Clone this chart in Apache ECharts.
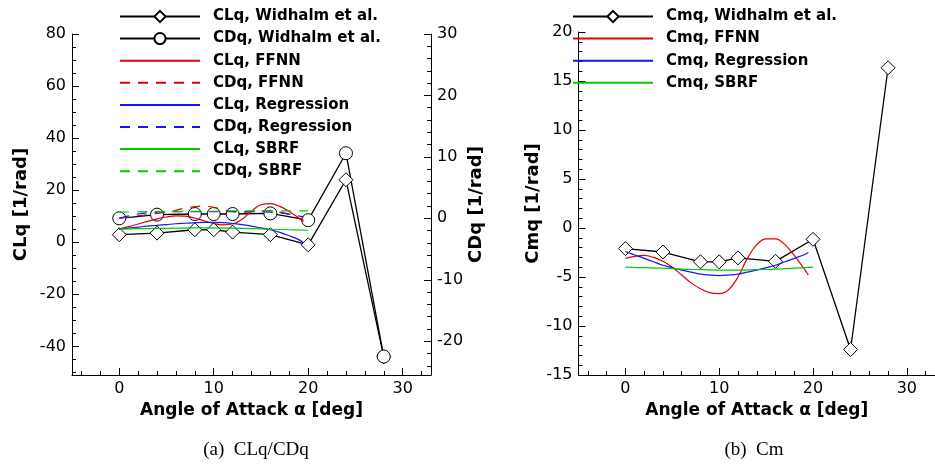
<!DOCTYPE html>
<html>
<head>
<meta charset="utf-8">
<script src="https://cdn.jsdelivr.net/npm/echarts@6/dist/echarts.min.js"></script>
<style>html,body{margin:0;padding:0;background:#fff;}#c{width:935px;height:465px;}</style>
</head>
<body>
<div id="c"></div>
<script>
// ---------- data ----------
const alphaExp = [0, 4, 8, 10, 12, 16, 20, 24, 28];
const clqWidhalm = [2.9, 3.5, 4.8, 4.8, 3.9, 2.9, -1.0, 24, -44];
const cdqWidhalm = [0.0, 0.6, 0.7, 0.7, 0.7, 0.8, -0.3, 10.6, -22.5];
const cmqWidhalm = [-2.1, -2.45, -3.45, -3.45, -3.05, -3.4, -1.15, -12.4, 16.35];

const alphaFit = [0, 1, 2, 3, 4, 5, 6, 7, 8, 9, 10, 11, 12, 13, 14, 15, 16, 17, 18, 19, 19.5];
const clqFFNN = [5.1, 6.0, 7.0, 8.0, 9.0, 9.7, 10.1, 10.0, 9.3, 8.2, 7.2, 6.7, 7.0, 8.8, 12.0, 14.4, 14.8, 13.8, 11.8, 9.3, 8.0];
const cdqFFNN = [0.0, 0.2, 0.4, 0.6, 0.8, 1.0, 1.3, 1.7, 1.9, 2.0, 1.8, 1.4, 1.1, 1.0, 1.1, 1.2, 1.2, 1.0, 0.6, 0.0, -0.3];
const clqReg = [5.0, 5.4, 5.8, 6.2, 6.5, 6.8, 7.1, 7.3, 7.5, 7.6, 7.6, 7.5, 7.2, 6.8, 6.2, 5.5, 4.8, 3.8, 2.5, 1.0, -0.2];
const cdqReg = [0.0, 0.4, 0.7, 0.9, 1.0, 1.05, 1.1, 1.1, 1.1, 1.1, 1.1, 1.1, 1.1, 1.1, 1.1, 1.05, 1.0, 0.9, 0.7, 0.4, 0.2];
const cmqFFNN = [-3.1, -2.9, -2.8, -3.0, -3.4, -4.0, -4.8, -5.6, -6.2, -6.6, -6.7, -6.3, -5.0, -3.1, -1.7, -1.1, -1.1, -1.7, -2.8, -4.1, -4.8];
const cmqReg = [-2.4, -2.75, -3.1, -3.45, -3.8, -4.05, -4.3, -4.5, -4.7, -4.8, -4.85, -4.8, -4.7, -4.5, -4.3, -4.05, -3.8, -3.45, -3.1, -2.75, -2.5];

const alphaSbrf = [0, 2, 4, 6, 8, 10, 12, 14, 16, 18, 20];
const clqSbrf = [5.0, 5.2, 5.3, 5.4, 5.5, 5.5, 5.4, 5.2, 5.0, 4.8, 4.6];
const cdqSbrf = [1.0, 1.05, 1.1, 1.1, 1.15, 1.15, 1.2, 1.2, 1.2, 1.2, 1.2];
const cmqSbrf = [-4.0, -4.05, -4.1, -4.2, -4.25, -4.3, -4.3, -4.25, -4.2, -4.1, -4.0];

const xTicks = [0, 10, 20, 30];
const clqTicks = [-40, -20, 0, 20, 40, 60, 80];
const cdqTicks = [-20, -10, 0, 10, 20, 30];
const cmqTicks = [-15, -10, -5, 0, 5, 10, 15, 20];

// ---------- helpers ----------
const FONT = 'DejaVu Sans';
const pairs = (xs, ys) => xs.map((x, i) => [x, ys[i]]);
function range(a, b, step, skipEvery) {
  const out = [];
  for (let v = a; v <= b + 1e-9; v += step) {
    const r = Math.round(v * 1000) / 1000;
    if (Math.abs(r % skipEvery) > 1e-6) out.push(r);
  }
  return out;
}
const xMinor = range(-4, 32, 2, 10);
const clqMinor = range(-50, 80, 5, 20);
const cdqMinor = range(-24, 30, 2, 10);
const cmqMinor = range(-15, 20, 1, 5);

const black = '#000';
const labelStyle = {color: black, fontFamily: FONT, fontSize: 16};
const nameStyle = {color: black, fontFamily: FONT, fontSize: 18, fontWeight: 'bold'};

function mainAxis(extra) {
  return Object.assign({
    type: 'value',
    axisLine: {show: true, onZero: false, lineStyle: {color: black, width: 1}},
    axisTick: {show: true, inside: true, length: 7, lineStyle: {color: black, width: 1}},
    axisLabel: Object.assign({show: true, margin: 6}, labelStyle),
    splitLine: {show: false},
    minorTick: {show: false}
  }, extra);
}
function minorAxis(extra, vals) {
  return Object.assign({
    type: 'value',
    axisLine: {show: false, onZero: false},
    axisTick: {show: true, inside: true, length: 4, customValues: vals, lineStyle: {color: black, width: 1}},
    axisLabel: {show: false},
    splitLine: {show: false}
  }, extra);
}
function withTicks(ax, vals) {
  ax.axisTick.customValues = vals;
  ax.axisLabel.customValues = vals;
  return ax;
}

const xName = 'Angle of Attack α [deg]';
const xAxes = [
  withTicks(mainAxis({gridIndex: 0, position: 'bottom', min: -5, max: 33, name: xName, nameLocation: 'middle', nameGap: 27,
    nameTextStyle: Object.assign({}, nameStyle, {fontSize: 17})}), xTicks),
  minorAxis({gridIndex: 0, position: 'bottom', min: -5, max: 33}, xMinor),
  withTicks(mainAxis({gridIndex: 1, position: 'bottom', min: -5, max: 33, name: xName, nameLocation: 'middle', nameGap: 27,
    nameTextStyle: Object.assign({}, nameStyle, {fontSize: 17})}), xTicks),
  minorAxis({gridIndex: 1, position: 'bottom', min: -5, max: 33}, xMinor)
];
const yAxes = [
  withTicks(mainAxis({gridIndex: 0, position: 'left', min: -51, max: 80, name: 'CLq [1/rad]', nameLocation: 'middle',
    nameRotate: 90, nameGap: 42, nameTextStyle: nameStyle}), clqTicks),
  minorAxis({gridIndex: 0, position: 'left', min: -51, max: 80}, clqMinor),
  withTicks(mainAxis({gridIndex: 0, position: 'right', min: -25.5, max: 30, name: 'CDq [1/rad]', nameLocation: 'middle',
    nameRotate: 90, nameGap: 32, nameTextStyle: nameStyle}), cdqTicks),
  minorAxis({gridIndex: 0, position: 'right', min: -25.5, max: 30}, cdqMinor),
  withTicks(mainAxis({gridIndex: 1, position: 'left', min: -15, max: 20, name: 'Cmq [1/rad]', nameLocation: 'middle',
    nameRotate: 90, nameGap: 36, nameTextStyle: nameStyle}), cmqTicks),
  minorAxis({gridIndex: 1, position: 'left', min: -15, max: 20}, cmqMinor)
];

function expSeries(name, xi, yi, sym, data) {
  return {
    name, type: 'line', xAxisIndex: xi, yAxisIndex: yi, data,
    symbol: sym, symbolSize: sym === 'diamond' ? 14 : 13, showSymbol: true,
    lineStyle: {color: black, width: 1.3},
    itemStyle: {color: '#fff', borderColor: black, borderWidth: 1},
    z: 2, silent: true
  };
}
function fitSeries(name, xi, yi, color, dashed, data) {
  return {
    name, type: 'line', xAxisIndex: xi, yAxisIndex: yi, data,
    smooth: 0.4, symbol: 'circle', showSymbol: false,
    lineStyle: {color, width: 1.2, type: dashed ? [10, 8] : 'solid'},
    itemStyle: {color},
    z: 3, silent: true
  };
}
const RED = '#e00000', BLUE = '#1515ff', GREEN = '#00cc00';

const series = [
  expSeries('CLq, Widhalm et al.', 0, 0, 'diamond', pairs(alphaExp, clqWidhalm)),
  expSeries('CDq, Widhalm et al.', 0, 2, 'circle', pairs(alphaExp, cdqWidhalm)),
  fitSeries('CLq, FFNN', 0, 0, RED, false, pairs(alphaFit, clqFFNN)),
  fitSeries('CDq, FFNN', 0, 2, RED, true, pairs(alphaFit, cdqFFNN)),
  fitSeries('CLq, Regression', 0, 0, BLUE, false, pairs(alphaFit, clqReg)),
  fitSeries('CDq, Regression', 0, 2, BLUE, true, pairs(alphaFit, cdqReg)),
  fitSeries('CLq, SBRF', 0, 0, GREEN, false, pairs(alphaSbrf, clqSbrf)),
  fitSeries('CDq, SBRF', 0, 2, GREEN, true, pairs(alphaSbrf, cdqSbrf)),
  expSeries('Cmq, Widhalm et al.', 2, 4, 'diamond', pairs(alphaExp, cmqWidhalm)),
  fitSeries('Cmq, FFNN', 2, 4, RED, false, pairs(alphaFit, cmqFFNN)),
  fitSeries('Cmq, Regression', 2, 4, BLUE, false, pairs(alphaFit, cmqReg)),
  fitSeries('Cmq, SBRF', 2, 4, GREEN, false, pairs(alphaSbrf, cmqSbrf))
];

const legendText = {color: black, fontFamily: FONT, fontSize: 15, fontWeight: 'bold', lineHeight: 14, padding: [0, 0, 0, 8]};
function legendItems(names) {
  return names.map(n => n.indexOf('Widhalm') >= 0 ? {name: n} : {name: n, itemStyle: {opacity: 0}});
}
const leftNames = ['CLq, Widhalm et al.', 'CDq, Widhalm et al.', 'CLq, FFNN', 'CDq, FFNN',
  'CLq, Regression', 'CDq, Regression', 'CLq, SBRF', 'CDq, SBRF'];
const rightNames = ['Cmq, Widhalm et al.', 'Cmq, FFNN', 'Cmq, Regression', 'Cmq, SBRF'];

const option = {
  backgroundColor: '#fff',
  animation: false,
  grid: [
    {left: 72, top: 34, width: 359, height: 341},
    {left: 578.5, top: 32, width: 359, height: 343}
  ],
  xAxis: xAxes,
  yAxis: yAxes,
  legend: [
    {orient: 'vertical', left: 119, top: 9, itemWidth: 80, itemHeight: 14, itemGap: 7.1, padding: 0,
      textStyle: legendText, data: legendItems(leftNames), selectedMode: false},
    {orient: 'vertical', left: 572, top: 9, itemWidth: 80, itemHeight: 14, itemGap: 7.1, padding: 0,
      textStyle: legendText, data: legendItems(rightNames), selectedMode: false}
  ],
  graphic: [
    {type: 'text', style: {text: '(a)  CLq/CDq', x: 256, y: 450, textAlign: 'center', textVerticalAlign: 'middle',
      font: '19px "Liberation Serif"', fill: black}},
    {type: 'text', style: {text: '(b)  Cm', x: 754, y: 450, textAlign: 'center', textVerticalAlign: 'middle',
      font: '19px "Liberation Serif"', fill: black}}
  ],
  series
};

const chart = echarts.init(document.getElementById('c'), null, {renderer: 'canvas'});
chart.setOption(option);
</script>
</body>
</html>
